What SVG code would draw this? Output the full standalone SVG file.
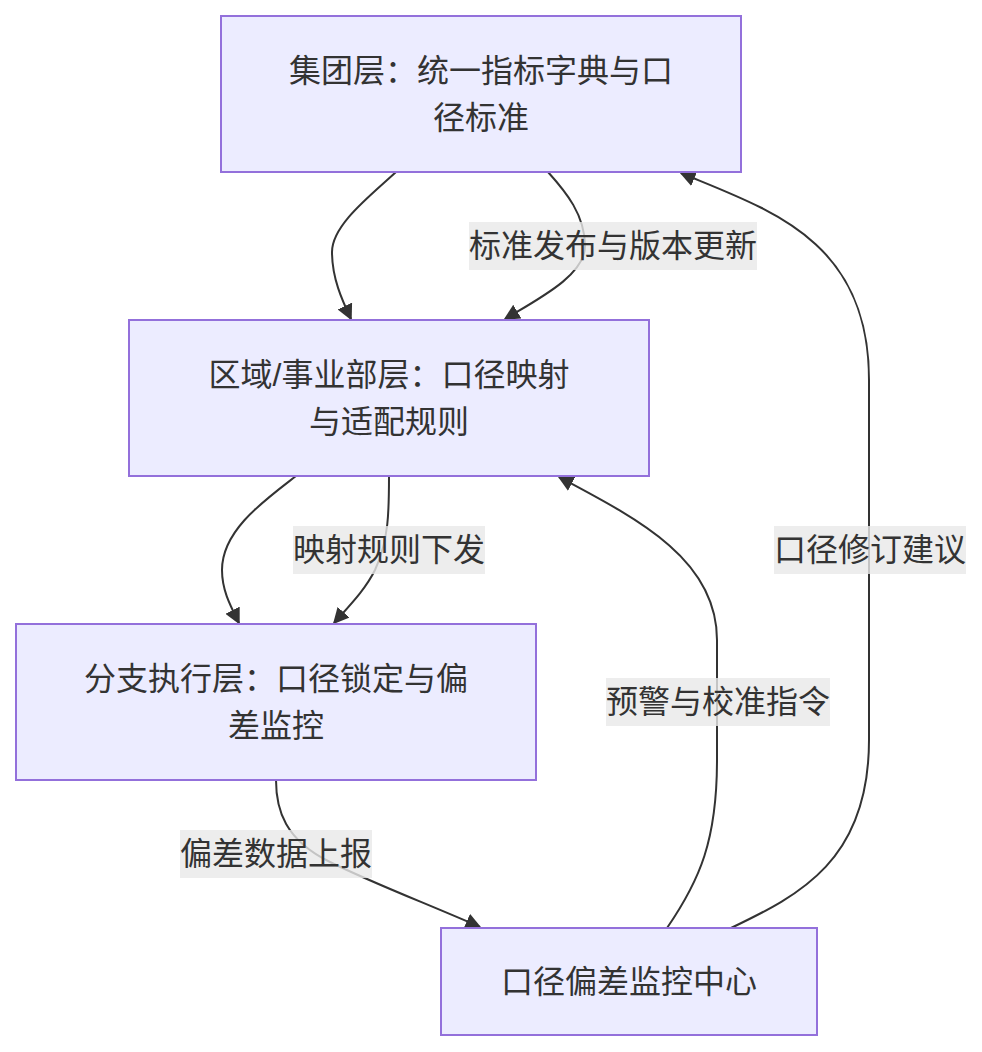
<svg xmlns="http://www.w3.org/2000/svg" width="982" height="1052" viewBox="0 0 982 1052">
<style>
.node rect{fill:#ECECFF;stroke:#9370DB;stroke-width:2px}
.node text{font-family:"Liberation Sans","Noto Sans CJK SC",sans-serif;font-size:32px;fill:#333;text-anchor:middle;dominant-baseline:central}
.edge{fill:none;stroke:#333;stroke-width:2px;marker-end:url(#arrow)}
.lbl rect{fill:rgba(232,232,232,0.8)}
.lbl text{font-family:"Liberation Sans","Noto Sans CJK SC",sans-serif;font-size:32px;fill:#333;text-anchor:middle;dominant-baseline:central}
</style>
<defs>
<marker id="arrow" viewBox="0 0 10 10" refX="9" refY="5" markerUnits="userSpaceOnUse" markerWidth="16" markerHeight="16" orient="auto">
<path d="M0,0 L10,5 L0,10 z" fill="#333"/>
</marker>
</defs>
<rect width="982" height="1052" fill="#fff"/>
<g id="connectors">
<path class="edge" d="M396,172 C370,196 332,225 332,252 C332,278 342,300 351,319"/>
<path class="edge" d="M548,172 C566,192 585,215 585,246 C585,275 540,298 505,319"/>
<path class="edge" d="M296,476 C265,500 222,530 222,570 C222,590 230,605 239,623"/>
<path class="edge" d="M389,476 C389,510 389,540 375,570 C365,590 350,605 334,623"/>
<path class="edge" d="M276,780 C276,810 285,840 330,862 C370,882 430,905 480,927"/>
<path class="edge" d="M667,928 C700,880 717,840 717,760 L717,640 C717,560 640,520 559,477"/>
<path class="edge" d="M731,928 C800,895 869,860 869,740 L869,380 C869,240 770,210 681,173"/>
</g>
<g id="edge-labels">
<g class="lbl"><rect x="469" y="222" width="288" height="48"/><text x="613" y="246">标准发布与版本更新</text></g>
<g class="lbl"><rect x="293" y="526" width="192" height="48"/><text x="389" y="550">映射规则下发</text></g>
<g class="lbl"><rect x="180" y="830" width="192" height="48"/><text x="276" y="854">偏差数据上报</text></g>
<g class="lbl"><rect x="606" y="678" width="224" height="48"/><text x="718" y="702">预警与校准指令</text></g>
<g class="lbl"><rect x="774" y="526" width="192" height="48"/><text x="870" y="550">口径修订建议</text></g>
</g>
<g id="node-group" class="node"><rect x="221" y="16" width="520" height="156"/><text x="481" y="71">集团层：统一指标字典与口</text><text x="481" y="118">径标准</text></g>
<g id="node-region" class="node"><rect x="129" y="320" width="520" height="156"/><text x="389" y="375">区域/事业部层：口径映射</text><text x="389" y="422">与适配规则</text></g>
<g id="node-branch" class="node"><rect x="16" y="624" width="520" height="156"/><text x="276" y="679">分支执行层：口径锁定与偏</text><text x="276" y="726">差监控</text></g>
<g id="node-center" class="node"><rect x="441" y="928" width="376" height="107"/><text x="629" y="982">口径偏差监控中心</text></g>
</svg>
